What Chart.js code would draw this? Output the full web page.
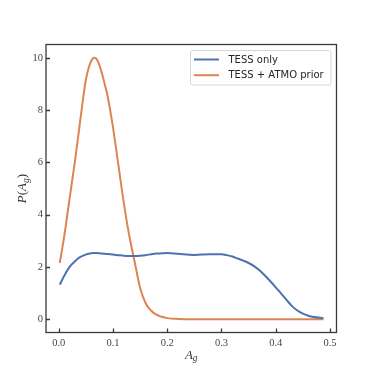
<!DOCTYPE html>
<html>
<head>
<meta charset="utf-8">
<script src="https://cdn.jsdelivr.net/npm/chart.js@4/dist/chart.umd.min.js"></script>
<style>
    html, body { margin: 0; padding: 0; background: #fff; }
    #wrap { width: 374px; height: 374px; }
</style>
</head>
<body>
<div id="wrap"><canvas id="chart" width="374" height="374"></canvas></div>
<script>
// sample points along A_g
const agValues = [0.002, 0.01, 0.02, 0.03, 0.04, 0.045, 0.05, 0.055, 0.06, 0.065, 0.07, 0.075, 0.08, 0.085, 0.09,
    0.10, 0.11, 0.12, 0.13, 0.14, 0.15, 0.16, 0.17, 0.18, 0.19, 0.20, 0.22, 0.25, 0.28, 0.30, 0.31, 0.32, 0.33,
    0.34, 0.35, 0.36, 0.37, 0.38, 0.39, 0.40, 0.41, 0.42, 0.43, 0.44, 0.45, 0.46, 0.47, 0.488]
const tessOnly = [1.32, 1.65, 2.0, 2.22, 2.38, 2.43, 2.47, 2.5, 2.52, 2.53, 2.53, 2.52, 2.51, 2.5, 2.49,
    2.47, 2.45, 2.43, 2.42, 2.42, 2.43, 2.45, 2.48, 2.51, 2.52, 2.53, 2.5, 2.46, 2.48, 2.48, 2.45, 2.4, 2.32,
    2.24, 2.15, 2.03, 1.87, 1.67, 1.45, 1.22, 0.98, 0.74, 0.5, 0.33, 0.21, 0.13, 0.08, 0.04]
const tessAtmo = [2.15, 3.15, 4.6, 6.05, 7.65, 8.45, 9.15, 9.6, 9.88, 10.0, 9.95, 9.72, 9.38, 8.98, 8.55,
    7.35, 5.9, 4.45, 3.2, 2.2, 1.2, 0.62, 0.33, 0.17, 0.09, 0.04, 0.01, 0, 0, 0, 0, 0, 0,
    0, 0, 0, 0, 0, 0, 0, 0, 0, 0, 0, 0, 0, 0, 0]
const seriesLabels = ['TESS only', 'TESS + ATMO prior']
const seriesColors = ['#4c72b0', '#dd8452']
const xTicks = [0.0, 0.1, 0.2, 0.3, 0.4, 0.5]
const yTicks = [0, 2, 4, 6, 8, 10]

const toPoints = ys => agValues.map((x, i) => ({x, y: ys[i]}))

const tickFont = {family: '"Liberation Serif", serif', size: 10.5}
const frameColor = '#3a3a3a'

// frame, inward ticks, axis titles, legend box
const decorations = {
    id: 'decorations',
    afterDatasetsDraw(chart) {
        const {ctx, chartArea: a, scales: {x, y}} = chart
        ctx.save()
        ctx.strokeStyle = frameColor
        ctx.lineWidth = 1.3
        ctx.beginPath()
        for (const t of x.ticks) {
            const px = Math.round(x.getPixelForValue(t.value)) + 0.5
            ctx.moveTo(px, a.bottom)
            ctx.lineTo(px, a.bottom - 4)
        }
        for (const t of y.ticks) {
            const py = Math.round(y.getPixelForValue(t.value)) + 0.5
            ctx.moveTo(a.left, py)
            ctx.lineTo(a.left + 4, py)
        }
        ctx.stroke()
        ctx.strokeRect(a.left, a.top, a.right - a.left, a.bottom - a.top)

        // legend
        const lx = 190.5, ly = 50.5, lw = 140.5, lh = 34.5
        ctx.fillStyle = 'rgba(255,255,255,0.85)'
        ctx.strokeStyle = '#d6d6d6'
        ctx.lineWidth = 1
        ctx.beginPath()
        ctx.roundRect(lx, ly, lw, lh, 2.5)
        ctx.fill()
        ctx.stroke()
        ctx.font = '10px "DejaVu Sans", sans-serif'
        ctx.textBaseline = 'middle'
        ctx.textAlign = 'left'
        chart.data.datasets.forEach((ds, i) => {
            const rowY = 59.5 + i * 15.7
            ctx.strokeStyle = ds.borderColor
            ctx.lineWidth = 2
            ctx.beginPath()
            ctx.moveTo(194, rowY)
            ctx.lineTo(219, rowY)
            ctx.stroke()
            ctx.fillStyle = '#262626'
            ctx.fillText(ds.label, 228.5, rowY + 0.5)
        })

        // axis titles
        const serif = '"Liberation Serif", serif'
        const drawMath = (parts, cx, cy) => {
            let w = 0
            for (const p of parts) {
                ctx.font = p.font
                w += ctx.measureText(p.text).width
            }
            let cur = cx - w / 2
            for (const p of parts) {
                ctx.font = p.font
                ctx.fillText(p.text, cur, cy + (p.dy || 0))
                cur += ctx.measureText(p.text).width
            }
        }
        ctx.fillStyle = '#333'
        ctx.textBaseline = 'alphabetic'
        drawMath([
            {text: 'A', font: `italic 13px ${serif}`},
            {text: 'g', font: `italic 9.5px ${serif}`, dy: 2.5},
        ], (a.left + a.right) / 2, 358.5)
        ctx.translate(26, (a.top + a.bottom) / 2)
        ctx.rotate(-Math.PI / 2)
        drawMath([
            {text: 'P', font: `italic 13px ${serif}`},
            {text: '(', font: `13px ${serif}`},
            {text: 'A', font: `italic 13px ${serif}`},
            {text: 'g', font: `italic 9.5px ${serif}`, dy: 2.5},
            {text: ')', font: `13px ${serif}`},
        ], 0, 0)
        ctx.restore()
    }
}

const makeDataset = (i, ys) => ({
    label: seriesLabels[i],
    data: toPoints(ys),
    borderColor: seriesColors[i],
    backgroundColor: seriesColors[i],
    borderWidth: 2,
    pointRadius: 0,
    cubicInterpolationMode: 'monotone',
    fill: false,
})

new Chart(document.getElementById('chart').getContext('2d'), {
    type: 'line',
    data: {
        datasets: [makeDataset(0, tessOnly), makeDataset(1, tessAtmo)]
    },
    options: {
        responsive: false,
        animation: false,
        layout: {padding: {top: 44.5, right: 37.5, left: 0, bottom: 0}},
        plugins: {
            legend: {display: false},
            tooltip: {enabled: false},
        },
        scales: {
            x: {
                type: 'linear',
                min: -0.0234,
                max: 0.512,
                grid: {display: false, drawTicks: false},
                border: {display: false},
                afterBuildTicks: scale => { scale.ticks = xTicks.map(value => ({value})) },
                afterFit: scale => { scale.height = 41.5 },
                ticks: {
                    font: tickFont,
                    color: '#444',
                    padding: 4,
                    maxRotation: 0,
                    callback: v => v.toFixed(1),
                },
            },
            y: {
                type: 'linear',
                min: -0.51,
                max: 10.51,
                grid: {display: false, drawTicks: false},
                border: {display: false},
                afterBuildTicks: scale => { scale.ticks = yTicks.map(value => ({value})) },
                afterFit: scale => { scale.width = 46 },
                ticks: {
                    font: tickFont,
                    color: '#444',
                    padding: 3,
                    callback: v => String(v),
                },
            },
        },
    },
    plugins: [decorations],
})
</script>
</body>
</html>
